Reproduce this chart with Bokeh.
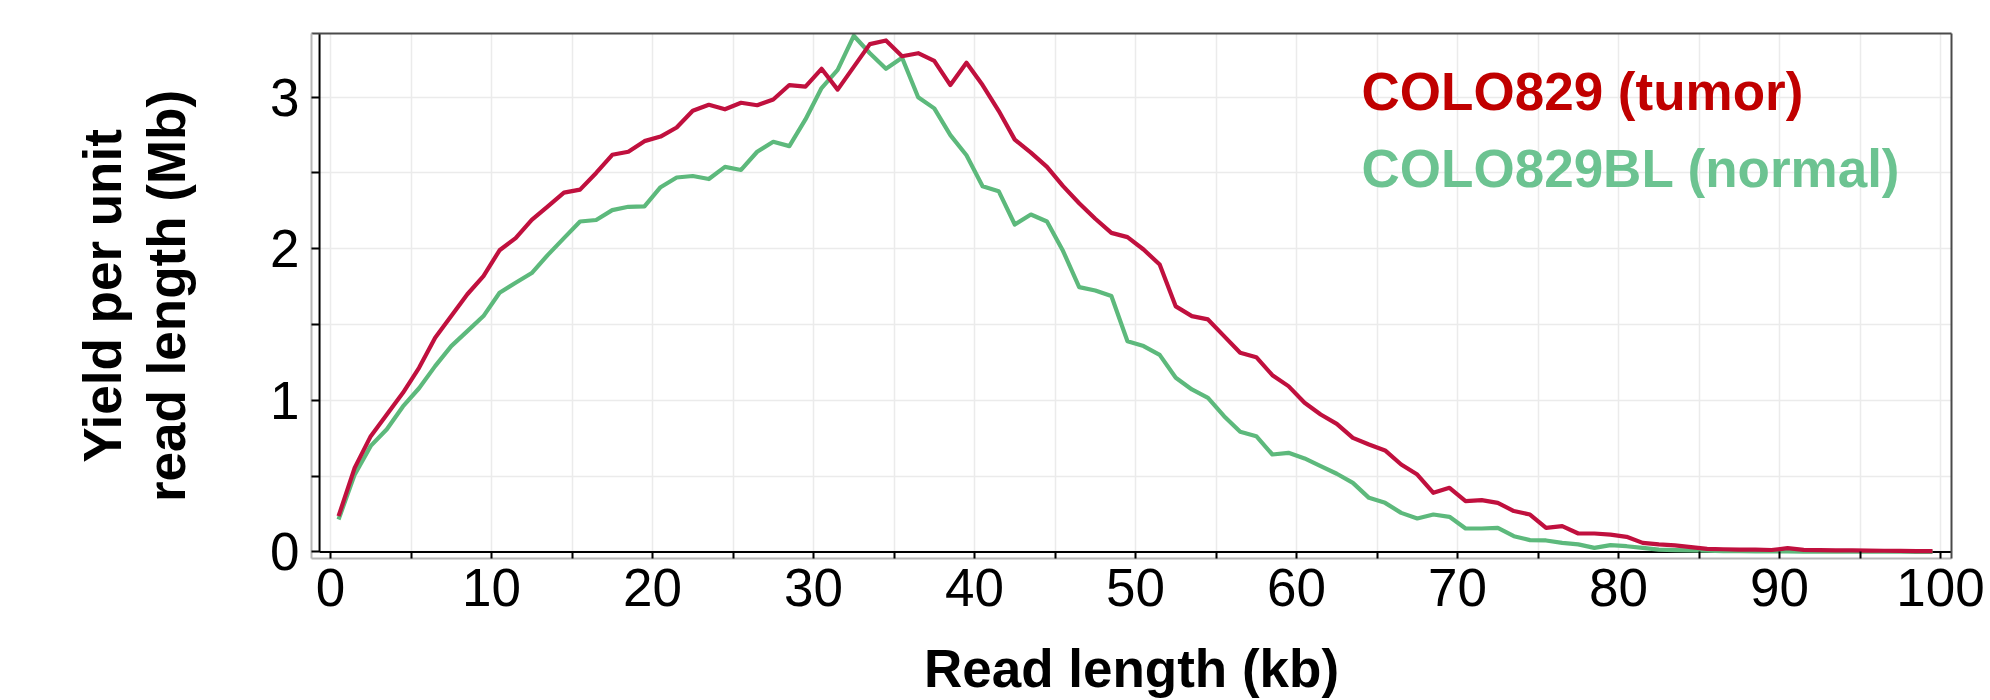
from bokeh.plotting import figure
from bokeh.models import Range1d, FixedTicker, LinearAxis, Label
from bokeh.embed import file_html
from bokeh.resources import INLINE

# ---------------- data ----------------
read_length_kb = [i + 0.5 for i in range(100)]

tumor_mb = [
    0.236, 0.555, 0.764, 0.907, 1.050, 1.215, 1.413, 1.556, 1.700, 1.820,
    1.990, 2.070, 2.190, 2.280, 2.370, 2.390, 2.500, 2.620, 2.640, 2.710,
    2.740, 2.800, 2.910, 2.950, 2.920, 2.963, 2.947, 2.985, 3.080, 3.070,
    3.187, 3.050, 3.200, 3.350, 3.374, 3.270, 3.290, 3.240, 3.080, 3.227,
    3.080, 2.910, 2.720, 2.634, 2.540, 2.413, 2.300, 2.198, 2.105, 2.077,
    1.995, 1.896, 1.620, 1.556, 1.534, 1.424, 1.314, 1.285, 1.166, 1.094,
    0.984, 0.907, 0.845, 0.753, 0.709, 0.670, 0.577, 0.511, 0.390, 0.423,
    0.335, 0.342, 0.324, 0.270, 0.247, 0.159, 0.170, 0.122, 0.122, 0.115,
    0.100, 0.060, 0.050, 0.043, 0.032, 0.020, 0.018, 0.015, 0.015, 0.013,
    0.025, 0.014, 0.012, 0.010, 0.010, 0.009, 0.008, 0.007, 0.006, 0.005,
]

normal_mb = [
    0.214, 0.510, 0.700, 0.810, 0.960, 1.080, 1.226, 1.358, 1.457, 1.556,
    1.710, 1.776, 1.840, 1.960, 2.070, 2.180, 2.190, 2.255, 2.277, 2.280,
    2.406, 2.470, 2.480, 2.460, 2.540, 2.520, 2.640, 2.706, 2.677, 2.853,
    3.060, 3.180, 3.405, 3.290, 3.187, 3.260, 3.000, 2.926, 2.750, 2.617,
    2.413, 2.380, 2.160, 2.226, 2.180, 1.985, 1.747, 1.725, 1.688, 1.390,
    1.358, 1.300, 1.149, 1.072, 1.017, 0.896, 0.793, 0.764, 0.643, 0.654,
    0.617, 0.566, 0.516, 0.456, 0.357, 0.324, 0.258, 0.221, 0.247, 0.232,
    0.155, 0.155, 0.159, 0.104, 0.078, 0.076, 0.060, 0.050, 0.027, 0.045,
    0.038, 0.027, 0.016, 0.012, 0.010, 0.008, 0.006, 0.005, 0.004, 0.004,
    0.004, 0.003, 0.003, 0.003, 0.002, 0.002, 0.002, 0.002, 0.001, 0.001,
]

x_major_ticks = [0, 10, 20, 30, 40, 50, 60, 70, 80, 90, 100]
x_minor_ticks = [5, 15, 25, 35, 45, 55, 65, 75, 85, 95]
y_major_ticks = [0, 1, 2, 3]
y_minor_ticks = [0.5, 1.5, 2.5]

series_names = ["COLO829 (tumor)", "COLO829BL (normal)"]
x_title = "Read length (kb)"
y_title = "Yield per unit\nread length (Mb)"

# ---------------- styling ----------------
FONT = "Liberation Sans"
FS = "53px"
TUMOR_LINE = "#c0103e"
NORMAL_LINE = "#5db97c"
TUMOR_TEXT = "#c00000"
NORMAL_TEXT = "#6cc391"

X_START, X_END = -1.18, 100.68
Y_START, Y_END = -0.043, 3.42
X_AXIS_POS = -0.68   # where the black y-axis line sits

p = figure(
    width=1990, height=700,
    x_range=Range1d(X_START, X_END), y_range=Range1d(Y_START, Y_END),
    output_backend="svg", toolbar_location=None,
    min_border_left=311, min_border_right=39,
    min_border_top=33, min_border_bottom=142,
    background_fill_color="white", border_fill_color="white",
)
p.outline_line_color = None

# axes
xt = FixedTicker(ticks=x_major_ticks, minor_ticks=x_minor_ticks)
yt = FixedTicker(ticks=y_major_ticks, minor_ticks=y_minor_ticks)
p.xaxis.ticker = xt
p.yaxis.ticker = yt

for ax in (p.xaxis[0], p.yaxis[0]):
    ax.axis_line_color = "#b8b8b8"
    ax.axis_line_width = 2
    ax.major_tick_out = 0
    ax.minor_tick_out = 0
    ax.major_tick_line_color = "black"
    ax.minor_tick_line_color = "black"
    ax.major_tick_line_width = 2
    ax.minor_tick_line_width = 2
    ax.major_label_text_font = FONT
    ax.major_label_text_font_size = FS
    ax.major_label_text_color = "black"
    ax.axis_label_text_font = FONT
    ax.axis_label_text_font_size = FS
    ax.axis_label_text_font_style = "bold"
    ax.axis_label_text_color = "black"

p.yaxis.major_tick_in = 8
p.yaxis.minor_tick_in = 8
p.xaxis.major_tick_in = 7
p.xaxis.minor_tick_in = 7
p.yaxis.major_label_standoff = 12
p.xaxis.major_label_standoff = 10
p.xaxis.axis_label = x_title
p.yaxis.axis_label = y_title
p.yaxis.axis_label_text_line_height = 1.08
p.xaxis.axis_label_standoff = 30
p.yaxis.axis_label_standoff = 71

# top and right frame lines
for loc in ("above", "right"):
    a = LinearAxis(ticker=FixedTicker(ticks=[]), axis_line_color="#4a4a4a",
                   axis_line_width=2, major_tick_in=0, major_tick_out=0,
                   minor_tick_in=0, minor_tick_out=0)
    p.add_layout(a, loc)

# grid
p.xgrid.ticker = xt
p.ygrid.ticker = yt
for g in (p.xgrid[0], p.ygrid[0]):
    g.grid_line_color = "#ebebeb"
    g.grid_line_width = 1.5
    g.minor_grid_line_color = "#ebebeb"
    g.minor_grid_line_width = 1.5

# black axis lines at x = X_AXIS_POS and y = 0
p.segment(x0=[X_AXIS_POS, X_AXIS_POS], y0=[0, 0], x1=[X_AXIS_POS, X_END], y1=[Y_END, 0],
          line_color="black", line_width=2)

# data
p.line(read_length_kb, normal_mb, line_color=NORMAL_LINE, line_width=4.2, line_join="round")
p.line(read_length_kb, tumor_mb, line_color=TUMOR_LINE, line_width=4.2, line_join="round")

# legend texts
p.add_layout(Label(x=64.04, y=3.04, text=series_names[0], text_font=FONT,
                   text_font_size=FS, text_font_style="bold", text_color=TUMOR_TEXT,
                   text_align="left", text_baseline="alphabetic"))
p.add_layout(Label(x=64.04, y=2.53, text=series_names[1], text_font=FONT,
                   text_font_size=FS, text_font_style="bold", text_color=NORMAL_TEXT,
                   text_align="left", text_baseline="alphabetic"))

open("out.html", "w").write(file_html(p, INLINE))
